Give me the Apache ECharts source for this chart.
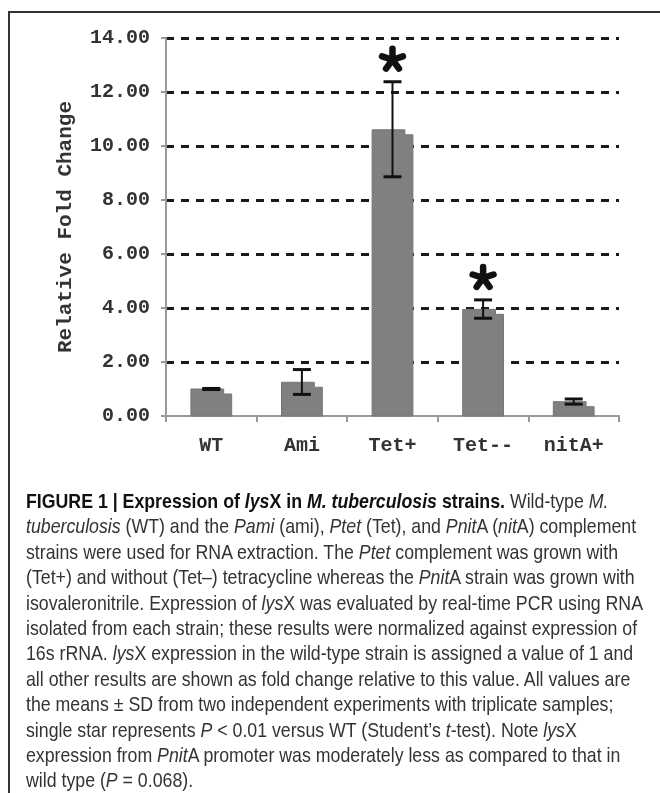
<!DOCTYPE html>
<html>
<head>
<meta charset="utf-8">
<script src="https://cdn.jsdelivr.net/npm/echarts@6/dist/echarts.min.js"></script>
<style>
    html, body { margin: 0; padding: 0; background: #fff; }
    .wrap { position: relative; width: 660px; height: 793px; overflow: hidden; }
    .box { position: absolute; left: 8px; top: 11px; width: 700px; height: 900px; border: 2px solid #333; box-sizing: border-box; }
    .chart { position: absolute; left: 0; top: 0; width: 660px; height: 793px; }
    .cap {
        position: absolute; left: 26px; top: 488px;
        font-family: "Liberation Sans", Arial, sans-serif;
        font-size: 21px; line-height: 25.4px; color: #333; white-space: nowrap;
        transform-origin: 0 0;
    }
    .cap .ln { display: inline-block; }
    .cap b { color: #111; }
</style>
</head>
<body>
<div class="wrap">
    <div class="box"></div>
    <div class="chart"></div>
    <div class="cap">
        <span class="ln"><b>FIGURE 1 | Expression of <i>lys</i>X in <i>M. tuberculosis</i> strains.</b> Wild-type <i>M.</i></span><br>
        <span class="ln"><i>tuberculosis</i> (WT) and the <i>Pami</i> (ami), <i>Ptet</i> (Tet), and <i>Pnit</i>A (<i>nit</i>A) complement</span><br>
        <span class="ln">strains were used for RNA extraction. The <i>Ptet</i> complement was grown with</span><br>
        <span class="ln">(Tet+) and without (Tet–) tetracycline whereas the <i>Pnit</i>A strain was grown with</span><br>
        <span class="ln" id="ref">isovaleronitrile. Expression of <i>lys</i>X was evaluated by real-time PCR using RNA</span><br>
        <span class="ln">isolated from each strain; these results were normalized against expression of</span><br>
        <span class="ln">16s rRNA. <i>lys</i>X expression in the wild-type strain is assigned a value of 1 and</span><br>
        <span class="ln">all other results are shown as fold change relative to this value. All values are</span><br>
        <span class="ln">the means ± SD from two independent experiments with triplicate samples;</span><br>
        <span class="ln">single star represents <i>P</i> &lt; 0.01 versus WT (Student’s <i>t</i>-test). Note <i>lys</i>X</span><br>
        <span class="ln">expression from <i>Pnit</i>A promoter was moderately less as compared to that in</span><br>
        <span class="ln">wild type (<i>P</i> = 0.068).</span>
    </div>
</div>
<script>
// 数据
var categories = ['WT', 'Ami', 'Tet+', 'Tet--', 'nitA+'];
var means = [1.0, 1.25, 10.6, 3.95, 0.53];
var errLow = [0.98, 0.80, 8.86, 3.62, 0.44];
var errHigh = [1.02, 1.72, 12.38, 4.30, 0.63];
var stars = [false, false, true, true, false];
var yMin = 0, yMax = 14, yStep = 2;

// 图注 横向压缩成窄字体的宽度
(function () {
    var cap = document.querySelector('.cap');
    var w = document.getElementById('ref').getBoundingClientRect().width;
    cap.style.transform = 'scaleX(' + (617 / w) + ')';
})();

(function () {
    var myChart = echarts.init(document.querySelector('.chart'));
    var monoFont = '"Liberation Mono", "DejaVu Sans Mono", monospace';

    // 柱子 (右上角带一个小台阶)
    function renderBar(params, api) {
        var i = api.value(0);
        var top = api.coord([i, api.value(1)]);
        var base = api.coord([i, 0]);
        var w = api.size([1, 0])[0] * 0.45;
        var l = top[0] - w / 2, r = top[0] + w / 2;
        return {
            type: 'polygon',
            shape: {
                points: [[l, base[1]], [l, top[1]], [r - 8, top[1]], [r - 8, top[1] + 5], [r, top[1] + 5], [r, base[1]]]
            },
            style: { fill: '#808080', stroke: '#767676', lineWidth: 1 }
        };
    }

    // 误差线 + 星号
    function renderErr(params, api) {
        var i = api.value(0);
        var hi = api.coord([i, api.value(1)]);
        var lo = api.coord([i, api.value(2)]);
        var x = hi[0], cw = 9;
        var kids = [
            { type: 'line', shape: { x1: x, y1: hi[1], x2: x, y2: lo[1] }, style: { stroke: '#111', lineWidth: 2 } },
            { type: 'line', shape: { x1: x - cw, y1: hi[1], x2: x + cw, y2: hi[1] }, style: { stroke: '#111', lineWidth: 3 } },
            { type: 'line', shape: { x1: x - cw, y1: lo[1], x2: x + cw, y2: lo[1] }, style: { stroke: '#111', lineWidth: 3 } }
        ];
        if (stars[i]) {
            var cy = hi[1] - 22;
            for (var k = 0; k < 5; k++) {
                var a = (-90 + k * 72) * Math.PI / 180;
                kids.push({
                    type: 'line',
                    shape: { x1: x, y1: cy, x2: x + Math.cos(a) * 11, y2: cy + Math.sin(a) * 11 },
                    style: { stroke: '#111', lineWidth: 6.5, lineCap: 'round' }
                });
            }
        }
        return { type: 'group', children: kids };
    }

    var option = {
        animation: false,
        grid: { left: 166, right: 41, top: 38, bottom: 377 },
        xAxis: {
            type: 'category',
            data: categories,
            axisLine: { lineStyle: { color: '#9a9a9a', width: 2 } },
            axisTick: { show: true, length: 6, lineStyle: { color: '#9a9a9a', width: 2 } },
            axisLabel: { color: '#333', fontFamily: monoFont, fontWeight: 'bold', fontSize: 20, margin: 20 }
        },
        yAxis: {
            type: 'value',
            min: yMin,
            max: yMax,
            interval: yStep,
            name: 'Relative Fold Change',
            nameLocation: 'middle',
            nameRotate: 90,
            nameGap: 90,
            nameTextStyle: { color: '#333', fontFamily: monoFont, fontWeight: 'bold', fontSize: 21 },
            axisLine: { show: true, lineStyle: { color: '#9a9a9a', width: 2 } },
            axisTick: { show: true, length: 5, lineStyle: { color: '#9a9a9a', width: 2 } },
            axisLabel: {
                color: '#333', fontFamily: monoFont, fontWeight: 'bold', fontSize: 20, margin: 16,
                formatter: function (v) { return v.toFixed(2); }
            },
            splitLine: { show: true, showMinLine: false, lineStyle: { color: '#1a1a1a', width: 3, type: [8, 7] } }
        },
        series: [
            {
                type: 'custom',
                renderItem: renderBar,
                data: categories.map(function (c, i) { return [i, means[i]]; }),
                z: 3
            },
            {
                type: 'custom',
                renderItem: renderErr,
                data: categories.map(function (c, i) { return [i, errHigh[i], errLow[i]]; }),
                z: 4
            }
        ]
    };

    myChart.setOption(option);
    window.addEventListener('resize', function () {
        myChart.resize();
    });
})();
</script>
</body>
</html>
